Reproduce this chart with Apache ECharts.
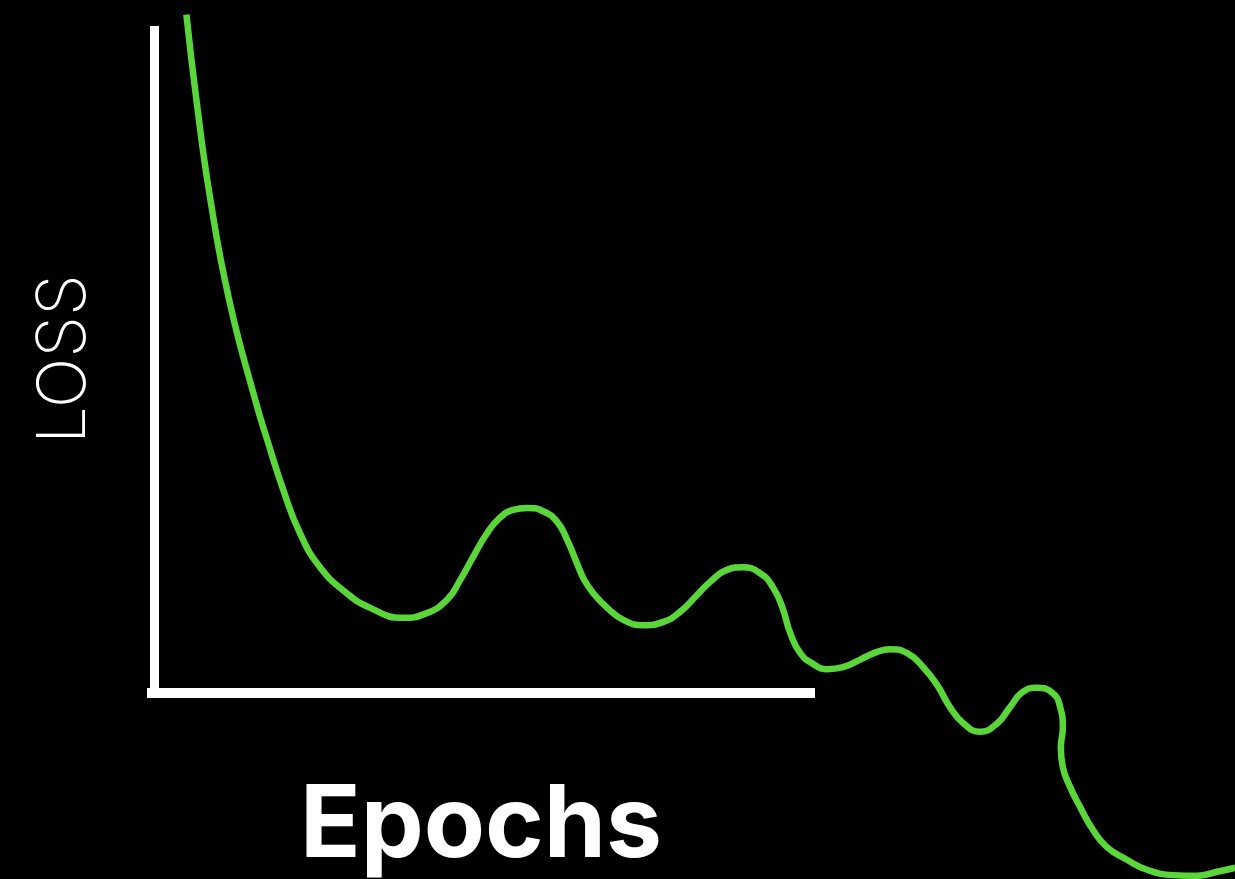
<!DOCTYPE html>
<html>
<head>
<meta charset="utf-8">
<title>Loss vs Epochs</title>
<script src="https://cdn.jsdelivr.net/npm/echarts@6/dist/echarts.min.js"></script>
<style>
    html, body { margin: 0; padding: 0; background: #000; }
    #chart { width: 1235px; height: 879px; }
</style>
</head>
<body>
<div id="chart"></div>
<script>
// 轴标题
const xName = 'Epochs';
const yName = 'LOSS';

// 曲线数据（读图估计，坐标框内 x/y 都是 0~100，曲线会跑出坐标框）
const epochs = [
    5.9, 7.4, 9.5, 12.3, 16.2, 18.0, 20.4, 22.9, 25.9, 29.9,
    33.4, 38.3, 41.6, 44.9, 46.9, 48.8, 50.9, 52.8, 54.8, 56.9,
    59.3, 61.4, 62.9, 64.4, 65.4, 66.8, 68.9, 71.3, 74.3, 77.3,
    79.8, 82.3, 84.3, 86.8, 89.2, 91.8, 93.7, 95.1, 96.3, 97.8,
    99.7, 101.8, 104.2, 106.7, 109.3, 111.2, 113.8, 116.2, 118.3, 120.2,
    122.2, 124.7, 127.3, 129.2, 131.1, 133.2, 135.6, 136.7, 137.1, 136.8,
    137.1, 138.2, 139.7, 141.6, 143.7, 146.7, 149.7, 153.6, 157.2, 160.2,
    162.9
];
const loss = [
    101.7, 88.9, 73.9, 58.9, 43.9, 37.9, 30.4, 23.9, 18.8, 14.9,
    12.7, 11.2, 11.8, 13.9, 16.9, 20.3, 23.9, 26.2, 27.4, 27.7,
    27.2, 25.6, 22.9, 19.3, 17.0, 14.9, 12.7, 10.9, 10.1, 10.6,
    12.1, 14.6, 16.6, 18.4, 18.8, 17.9, 15.8, 12.8, 8.9, 5.9,
    4.3, 3.5, 3.8, 4.9, 6.1, 6.5, 5.9, 3.8, 1.1, -2.2,
    -4.6, -5.9, -4.6, -2.2, 0.1, 0.7, -0.1, -2.2, -5.3, -8.2,
    -11.2, -14.2, -17.2, -20.6, -23.2, -25.1, -26.6, -27.4, -27.5, -26.9,
    -26.3
];

const lineColor = '#5bd63a';

var myChart = echarts.init(document.getElementById('chart'));

// 两套网格：0 号只画白色的 L 形坐标轴，1 号比例相同但更大，用来画整条曲线
var option = {
    backgroundColor: '#000',
    animation: false,
    grid: [
        {
            left: 147,
            top: 26,
            width: 668,
            height: 666.5,
            containLabel: false,
            outerBoundsMode: 'none'
        },
        {
            left: 147,
            top: -40.65,   // y 范围 -40 ~ 110，0~100 正好对上 0 号网格
            width: 1336,   // x 范围 0 ~ 200
            height: 999.75,
            containLabel: false,
            outerBoundsMode: 'none'
        }
    ],
    xAxis: [
        {
            gridIndex: 0,
            type: 'value',
            min: 0,
            max: 100,
            name: xName,
            nameLocation: 'middle',
            nameGap: 84,
            nameTextStyle: {
                color: '#fff',
                fontFamily: 'Inter',
                fontWeight: 700,
                fontSize: 100
            },
            axisLine: {
                show: true,
                onZero: false,
                lineStyle: { color: '#fff', width: 10, cap: 'butt' }
            },
            axisTick: { show: false },
            axisLabel: { show: false },
            splitLine: { show: false }
        },
        {
            gridIndex: 1,
            type: 'value',
            min: 0,
            max: 200,
            show: false
        }
    ],
    yAxis: [
        {
            gridIndex: 0,
            type: 'value',
            min: 0,
            max: 100,
            offset: -7.5, // 竖线比横线起点靠右一点
            name: yName,
            nameLocation: 'middle',
            nameRotate: 90,
            nameGap: 56,
            nameTextStyle: {
                color: '#fff',
                fontFamily: 'Inter',
                fontWeight: 200,
                fontSize: 67
            },
            axisLine: {
                show: true,
                onZero: false,
                lineStyle: { color: '#fff', width: 9, cap: 'butt' }
            },
            axisTick: { show: false },
            axisLabel: { show: false },
            splitLine: { show: false }
        },
        {
            gridIndex: 1,
            type: 'value',
            min: -40,
            max: 110,
            show: false
        }
    ],
    series: [{
        type: 'line',
        xAxisIndex: 1,
        yAxisIndex: 1,
        data: epochs.map((x, i) => [x, loss[i]]),
        smooth: 0.5,
        showSymbol: false,
        symbol: 'none',
        clip: false,
        lineStyle: { color: lineColor, width: 6.5 }
    }]
};

myChart.setOption(option);
</script>
</body>
</html>
